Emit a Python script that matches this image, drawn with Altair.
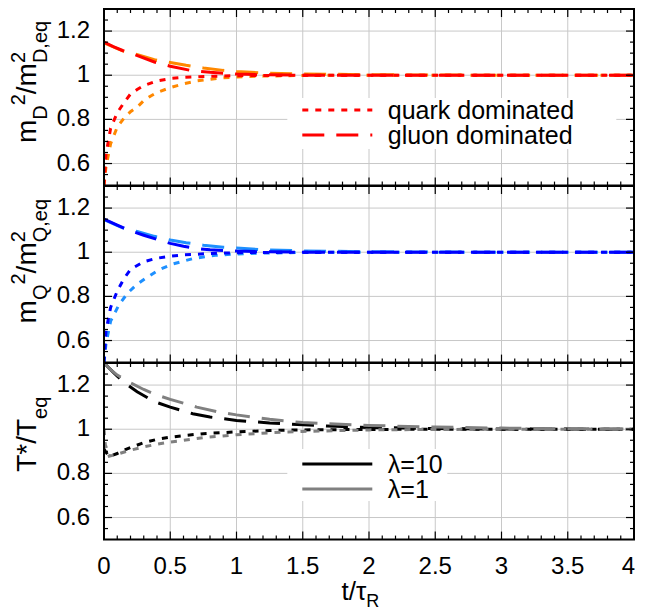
import altair as alt
import pandas as pd

FONT = "Liberation Sans"
GRID = "#c8c8c8"

# ---------------- axis values / labels ----------------
x_label_values = [0, 0.5, 1, 1.5, 2, 2.5, 3, 3.5]
x_label_texts = ["0", "0.5", "1", "1.5", "2", "2.5", "3", "3.5"]
x_last_value = [4]
x_last_text = ["4"]
y_label_values = [0.6, 0.8, 1.0, 1.2]
y_label_texts = ["0.6", "0.8", "1", "1.2"]
x_major_ticks = [0.5, 1, 1.5, 2, 2.5, 3, 3.5]
x_minor_ticks = [0.1, 0.2, 0.3, 0.4, 0.6, 0.7, 0.8, 0.9, 1.1, 1.2, 1.3, 1.4,
                 1.6, 1.7, 1.8, 1.9, 2.1, 2.2, 2.3, 2.4, 2.6, 2.7, 2.8, 2.9,
                 3.1, 3.2, 3.3, 3.4, 3.6, 3.7, 3.8, 3.9]
y_major_ticks = [0.6, 0.8, 1.0, 1.2]
y_minor_ticks = [0.55, 0.65, 0.7, 0.75, 0.85, 0.9, 0.95, 1.05, 1.1, 1.15, 1.25]

# ---------------- panel 1: m_D^2 / m_D,eq^2 ----------------
mD_quark_l10_t = [0, 0.015, 0.05, 0.1, 0.15, 0.2, 0.25, 0.3, 0.4, 0.5, 0.6, 0.8, 1.0, 1.5, 2, 3, 4]
mD_quark_l10_v = [0.5, 0.64, 0.76, 0.83, 0.875, 0.915, 0.935, 0.953, 0.974, 0.985, 0.99, 0.995, 0.998, 1.0, 1.0, 1.0, 1.0]
mD_quark_l1_t = [0, 0.015, 0.05, 0.1, 0.15, 0.2, 0.25, 0.3, 0.35, 0.4, 0.5, 0.6, 0.7, 0.8, 0.9, 1.0, 1.2, 1.5, 2, 3, 4]
mD_quark_l1_v = [0.5, 0.585, 0.69, 0.765, 0.805, 0.835, 0.855, 0.885, 0.905, 0.922, 0.944, 0.961, 0.974, 0.982, 0.988, 0.992, 0.996, 0.999, 1.0, 1.0, 1.0]
mD_gluon_l10_t = [0, 0.07, 0.14, 0.22, 0.38, 0.5, 0.66, 0.8, 1.0, 1.2, 1.5, 2, 3, 4]
mD_gluon_l10_v = [1.15, 1.13, 1.112, 1.096, 1.06, 1.041, 1.021, 1.013, 1.005, 1.002, 1.0, 1.0, 1.0, 1.0]
mD_gluon_l1_t = [0, 0.14, 0.23, 0.38, 0.5, 0.62, 0.75, 0.9, 1.0, 1.2, 1.5, 2, 2.5, 3, 4]
mD_gluon_l1_v = [1.147, 1.11, 1.097, 1.07, 1.058, 1.045, 1.033, 1.022, 1.017, 1.01, 1.006, 1.002, 1.001, 1.0, 1.0]

# ---------------- panel 2: m_Q^2 / m_Q,eq^2 ----------------
mQ_quark_l10_t = [0, 0.015, 0.05, 0.1, 0.15, 0.2, 0.3, 0.4, 0.5, 0.6, 0.8, 1.0, 1.5, 2, 4]
mQ_quark_l10_v = [0.5, 0.643, 0.75, 0.824, 0.88, 0.922, 0.957, 0.973, 0.982, 0.988, 0.994, 0.998, 1.0, 1.0, 1.0]
mQ_quark_l1_t = [0, 0.015, 0.05, 0.115, 0.18, 0.25, 0.32, 0.42, 0.52, 0.67, 0.84, 1.0, 1.2, 1.5, 2, 4]
mQ_quark_l1_v = [0.5, 0.585, 0.688, 0.764, 0.816, 0.855, 0.884, 0.922, 0.947, 0.971, 0.986, 0.992, 0.996, 0.999, 1.0, 1.0]
mQ_gluon_l10_t = [0, 0.1, 0.2, 0.3, 0.4, 0.5, 0.6, 0.7, 0.8, 1.0, 1.2, 1.5, 2, 4]
mQ_gluon_l10_v = [1.15, 1.123, 1.097, 1.077, 1.058, 1.04, 1.027, 1.017, 1.011, 1.005, 1.002, 1.0, 1.0, 1.0]
mQ_gluon_l1_t = [0, 0.14, 0.25, 0.38, 0.5, 0.62, 0.75, 0.9, 1.0, 1.2, 1.5, 2, 2.5, 3, 4]
mQ_gluon_l1_v = [1.148, 1.11, 1.094, 1.072, 1.055, 1.043, 1.032, 1.023, 1.019, 1.011, 1.006, 1.002, 1.001, 1.0, 1.0]

# ---------------- panel 3: T* / T_eq ----------------
T_quark_l10_t = [0, 0.01, 0.04, 0.1, 0.15, 0.2, 0.3, 0.4, 0.5, 0.6, 0.75, 1.0, 1.25, 1.5, 2, 2.5, 4]
T_quark_l10_v = [0.91, 0.9, 0.876, 0.89, 0.905, 0.917, 0.939, 0.954, 0.964, 0.971, 0.98, 0.988, 0.994, 0.997, 0.999, 1.0, 1.0]
T_quark_l1_t = [0, 0.01, 0.04, 0.1, 0.2, 0.3, 0.4, 0.5, 0.6, 0.75, 1.0, 1.25, 1.5, 2, 2.5, 3, 4]
T_quark_l1_v = [1.0, 0.93, 0.878, 0.887, 0.905, 0.92, 0.932, 0.942, 0.95, 0.962, 0.975, 0.984, 0.99, 0.997, 0.999, 1.0, 1.0]
T_gluon_l10_t = [0, 0.05, 0.1, 0.18, 0.25, 0.38, 0.5, 0.67, 0.8, 1.0, 1.25, 1.5, 1.75, 2, 2.5, 3, 4]
T_gluon_l10_v = [1.30, 1.27, 1.24, 1.20, 1.17, 1.125, 1.10, 1.07, 1.055, 1.04, 1.028, 1.02, 1.013, 1.008, 1.003, 1.001, 1.0]
T_gluon_l1_t = [0, 0.05, 0.1, 0.2, 0.3, 0.4, 0.5, 0.6, 0.7, 0.85, 1.0, 1.25, 1.5, 2, 2.5, 3, 3.5, 4]
T_gluon_l1_v = [1.30, 1.27, 1.245, 1.21, 1.18, 1.155, 1.135, 1.118, 1.10, 1.08, 1.065, 1.045, 1.03, 1.017, 1.01, 1.005, 1.002, 1.001]

W, H = 530.0, 176.6
XS = alt.Scale(domain=[0, 4], nice=False, zero=False)
YS = alt.Scale(domain=[0.5, 1.3], nice=False, zero=False)
DOTTED = [6, 7]
DASHED = [22, 12]
ONE = pd.DataFrame({"k": [0]})


def X(field):
    return alt.X(field, scale=XS, axis=None)


def Y(field):
    return alt.Y(field, scale=YS, axis=None)


def curve(ts, vs, color, dash):
    return alt.Chart(pd.DataFrame({"t": ts, "v": vs})).mark_line(
        color=color, strokeWidth=3, strokeDash=dash, clip=True
    ).encode(x=X("t:Q"), y=Y("v:Q"))


def txt(label, x, y, size, angle=0, align="left"):
    return alt.Chart(pd.DataFrame({"label": [label]})).mark_text(
        align=align, baseline="alphabetic", angle=angle, font=FONT,
        fontSize=size, color="black"
    ).encode(text="label:N", x=alt.value(x), y=alt.value(y))


def box(x0, x1, y0, y1):
    return alt.Chart(ONE).mark_rect(color="white").encode(
        x=alt.value(x0), x2=alt.value(x1), y=alt.value(y0), y2=alt.value(y1))


def seg(x0, x1, y, color, dash=None):
    kw = dict(color=color, strokeWidth=3)
    if dash is not None:
        kw["strokeDash"] = dash
    return alt.Chart(ONE).mark_rule(**kw).encode(
        x=alt.value(x0), x2=alt.value(x1), y=alt.value(y))


def grid_layers():
    gx = alt.Chart(pd.DataFrame({"p": x_major_ticks})).mark_rule(color=GRID, strokeWidth=1).encode(
        x=X("p:Q"), y=alt.value(0), y2=alt.value(H))
    gy = alt.Chart(pd.DataFrame({"p": y_label_values})).mark_rule(color=GRID, strokeWidth=1).encode(
        y=Y("p:Q"), x=alt.value(0), x2=alt.value(W))
    return [gx, gy]


def label_layers(x_labels):
    out = [alt.Chart(pd.DataFrame({"p": y_label_values, "s": y_label_texts})).mark_text(
        align="right", baseline="middle", font=FONT, fontSize=24, color="black"
    ).encode(y=Y("p:Q"), x=alt.value(-14), text="s:N")]
    if x_labels:
        out.append(alt.Chart(pd.DataFrame({"p": x_label_values, "s": x_label_texts})).mark_text(
            align="center", baseline="top", font=FONT, fontSize=24, color="black"
        ).encode(x=X("p:Q"), y=alt.value(H + 15), text="s:N"))
        out.append(alt.Chart(pd.DataFrame({"p": x_last_value, "s": x_last_text})).mark_text(
            align="right", baseline="top", font=FONT, fontSize=24, color="black", dx=1
        ).encode(x=X("p:Q"), y=alt.value(H + 15), text="s:N"))
    return out


def tick_layers():
    layers = []
    for vals, ln in ((x_major_ticks, 8), (x_minor_ticks, 4)):
        d = pd.DataFrame({"p": vals})
        for y0, y1 in ((H, H - ln), (0, ln)):
            layers.append(alt.Chart(d).mark_rule(color="black", strokeWidth=1.2).encode(
                x=X("p:Q"), y=alt.value(y0), y2=alt.value(y1)))
    for vals, ln in ((y_major_ticks, 8), (y_minor_ticks, 4)):
        d = pd.DataFrame({"p": vals})
        for x0, x1 in ((0, ln), (W, W - ln)):
            layers.append(alt.Chart(d).mark_rule(color="black", strokeWidth=1.2).encode(
                y=Y("p:Q"), x=alt.value(x0), x2=alt.value(x1)))
    return layers


def border():
    return alt.Chart(ONE).mark_rect(filled=False, color="black", strokeWidth=2).encode(
        x=alt.value(0), x2=alt.value(W), y=alt.value(0), y2=alt.value(H))


def panel(curves, x_labels, under, over):
    layers = (grid_layers() + under + curves + over + tick_layers()
              + [border()] + label_layers(x_labels))
    return alt.layer(*layers).properties(width=W, height=H)


F, f = 28, 20
XM, XSUB, XSUP = -67.7, -56.7, -78.7
ORANGE, RED = "#ff8800", "#ff0000"
LBLUE, BLUE = "#1e90ff", "#0000ff"
BLACK, GRAY = "#000000", "#808080"

# ---------- panel 1 ----------
c1 = [
    curve(mD_quark_l1_t, mD_quark_l1_v, ORANGE, DOTTED),
    curve(mD_gluon_l1_t, mD_gluon_l1_v, ORANGE, DASHED),
    curve(mD_quark_l10_t, mD_quark_l10_v, RED, DOTTED),
    curve(mD_gluon_l10_t, mD_gluon_l10_v, RED, DASHED),
]
t1 = [
    txt("m", XM, 134, F, 270), txt("D", XSUB, 110.7, f, 270), txt("2", XSUP, 96.3, f, 270),
    txt("/m", XM, 85.2, F, 270), txt("2", XSUP, 54.1, f, 270), txt("D,eq", XSUB, 54.1, f, 270),
]
leg1 = [
    seg(198.3, 268.3, 101, RED, DOTTED), txt("quark dominated", 283.8, 109.5, 25),
    seg(198.3, 268.3, 126, RED, DASHED), txt("gluon dominated", 283.8, 134.5, 25),
]
p1 = panel(c1, False, [box(183.3, 512.3, 89, 140)], leg1 + t1)

# ---------- panel 2 ----------
c2 = [
    curve(mQ_quark_l1_t, mQ_quark_l1_v, LBLUE, DOTTED),
    curve(mQ_gluon_l1_t, mQ_gluon_l1_v, LBLUE, DASHED),
    curve(mQ_quark_l10_t, mQ_quark_l10_v, BLUE, DOTTED),
    curve(mQ_gluon_l10_t, mQ_gluon_l10_v, BLUE, DASHED),
]
t2 = [
    txt("m", XM, 137.4, F, 270), txt("Q", XSUB, 114.1, f, 270), txt("2", XSUP, 98.5, f, 270),
    txt("/m", XM, 87.4, F, 270), txt("2", XSUP, 56.3, f, 270), txt("Q,eq", XSUB, 56.3, f, 270),
]
p2 = panel(c2, False, [], t2)

# ---------- panel 3 ----------
c3 = [
    curve(T_quark_l10_t, T_quark_l10_v, BLACK, DOTTED),
    curve(T_gluon_l10_t, T_gluon_l10_v, BLACK, DASHED),
    curve(T_quark_l1_t, T_quark_l1_v, GRAY, DOTTED),
    curve(T_gluon_l1_t, T_gluon_l1_v, GRAY, DASHED),
]
t3 = [
    txt("T*/T", XM, 108.8, F, 270), txt("eq", XSUB, 55.9, f, 270),
    txt("t/τ", 262.3, 237, 26, 0, "right"), txt("R", 262.3, 243.5, 18),
]
leg3 = [
    seg(198.3, 268.3, 101, BLACK), txt("λ=10", 283.8, 109.5, 25),
    seg(198.3, 268.3, 126, GRAY), txt("λ=1", 283.8, 134.5, 25),
]
p3 = panel(c3, True, [box(183.3, 343.3, 86, 138)], leg3 + t3)

chart = alt.vconcat(p1, p2, p3, spacing=0, bounds="flush").properties(
    padding={"left": 1, "top": 0, "right": 0, "bottom": 0}
).configure_view(strokeWidth=0)

chart.save("out.html", embed_options={"renderer": "svg", "actions": False})
